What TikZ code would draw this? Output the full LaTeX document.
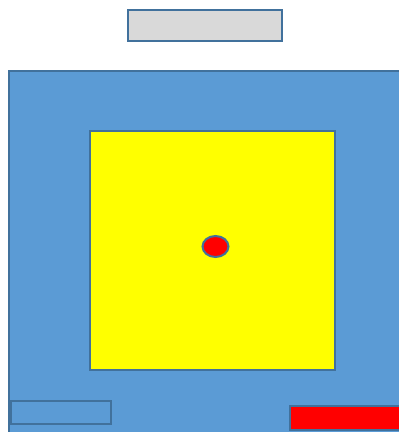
\documentclass[tikz,border=0pt]{standalone}
\definecolor{bluefill}{HTML}{5B9BD5}
\definecolor{blueline}{HTML}{41719C}
\definecolor{grayfill}{HTML}{D9D9D9}
\definecolor{yellowfill}{RGB}{255,255,0}
\definecolor{redfill}{RGB}{255,0,0}
\tikzset{
  shapeline/.style={draw=blueline, line width=2pt},
}
\begin{document}
\begin{tikzpicture}[x=1pt,y=-1pt]
\useasboundingbox (0,0) rectangle (399,432);
\clip (0,0) rectangle (399,432);
\fill[white] (0,0) rectangle (399,432);
% top gray box
\draw[shapeline, fill=grayfill] (127.5,10) rectangle (281.5,41);
% large blue area
\draw[shapeline, fill=bluefill] (8.5,70.5) rectangle (420,450);
% yellow square
\draw[shapeline, fill=yellowfill] (89.5,130.5) rectangle (334.5,369.5);
% red ellipse
\draw[shapeline, fill=redfill] (215.5,246.5) ellipse [x radius=13, y radius=10.5];
% small bottom-left box
\draw[shapeline, fill=bluefill] (10.5,401) rectangle (110.5,424);
% red bar bottom right
\draw[shapeline, fill=redfill] (289.5,405.5) rectangle (420,429.5);
\end{tikzpicture}
\end{document}
